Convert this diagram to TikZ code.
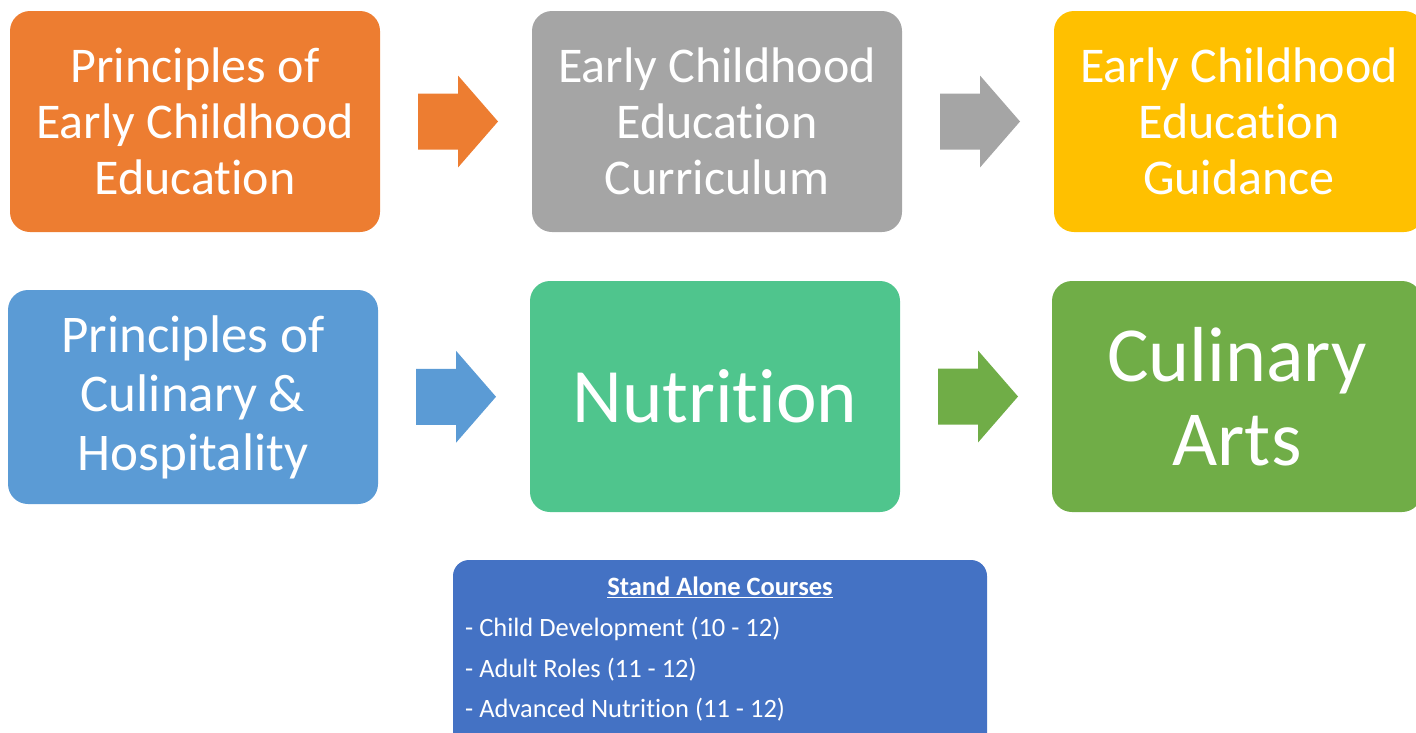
\documentclass[tikz,border=0pt]{standalone}
\usepackage{fontspec}
\setmainfont{Carlito}[Ligatures=NoCommon]
\usepackage{xcolor}
\usetikzlibrary{calc}

\definecolor{eceorange}{HTML}{ED7D31}
\definecolor{ecegray}{HTML}{A5A5A5}
\definecolor{eceyellow}{HTML}{FFC000}
\definecolor{culblue}{HTML}{5B9BD5}
\definecolor{nutgreen}{HTML}{4FC58D}
\definecolor{culgreen}{HTML}{70AD47}
\definecolor{courseblue}{HTML}{4472C4}

\tikzset{
    course/.style={rounded corners=20pt, minimum width=370pt, inner sep=0pt,
        text=white, align=center},
    toprow/.style={course, minimum height=221pt, font=\fontsize{50}{56}\selectfont},
}

% block arrow between two course boxes
\newcommand{\flowarrow}[3]{%
    \path (#1.east) -- (#2.west) coordinate[pos=0.5] (#1-#2);
    \fill[#3] ($(#1-#2)+(-38,-28)$) -- ++(40,0) -- ++(0,-18) -- ++(40,46)
        -- ++(-40,46) -- ++(0,-18) -- ++(-40,0) -- cycle;}

\begin{document}
\begin{tikzpicture}[x=1pt, y=-1pt]
    \useasboundingbox (0,0) rectangle (1416,732);

    % early childhood pathway
    \node[toprow, fill=eceorange] (ecprin) at (195,121.5)
        {Principles of\\Early Childhood\\Education};
    \node[toprow, fill=ecegray] (eccurr) at (717,121.5)
        {Early Childhood\\Education\\Curriculum};
    \node[toprow, fill=eceyellow] (ecguid) at (1239,121.5)
        {Early Childhood\\Education\\Guidance};

    % culinary pathway
    \node[course, fill=culblue, minimum height=214pt,
        font=\fontsize{53}{59}\selectfont] (culprin) at (193,397)
        {Principles of\\Culinary \&\\Hospitality};
    \node[course, fill=nutgreen, minimum height=231pt,
        font=\fontsize{77}{84}\selectfont] (nutr) at (715,396.5) {Nutrition};
    \node[course, fill=culgreen, minimum height=231pt,
        font=\fontsize{78}{84}\selectfont] (culart) at (1237,396.5)
        {Culinary\\Arts};

    \flowarrow{ecprin}{eccurr}{eceorange}
    \flowarrow{eccurr}{ecguid}{ecegray}
    \flowarrow{culprin}{nutr}{culblue}
    \flowarrow{nutr}{culart}{culgreen}

    % stand alone courses
    \node[course, fill=courseblue, minimum width=534pt, minimum height=200pt,
        rounded corners=16pt] (alone) at (720,660) {};
    \node[text=white, font=\fontsize{26.5}{30}\bfseries, inner sep=0pt]
        (alonetitle) at (720,587) {\underline{Stand Alone Courses}};
    \node[text=white, font=\fontsize{26.5}{40.7}\selectfont, align=left,
        anchor=north west, inner sep=0pt] (alonelist) at (465,617)
        {- Child Development (10 - 12)\\- Adult Roles (11 - 12)\\- Advanced Nutrition (11 - 12)};
\end{tikzpicture}
\end{document}
